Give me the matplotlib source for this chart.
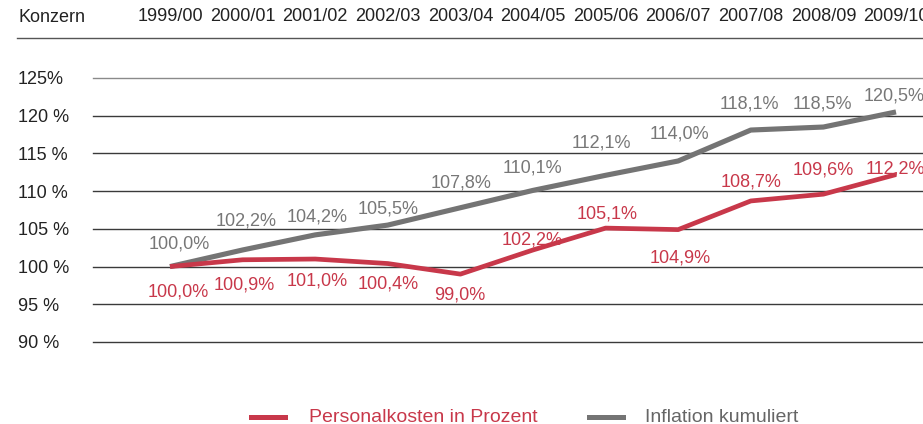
import numpy as np
import matplotlib.pyplot as plt
from matplotlib.lines import Line2D

plt.rcParams['font.family'] = ['Liberation Sans', 'DejaVu Sans']

# data
jahre = ['1999/00', '2000/01', '2001/02', '2002/03', '2003/04', '2004/05',
         '2005/06', '2006/07', '2007/08', '2008/09', '2009/10']
personal = [100.0, 100.9, 101.0, 100.4, 99.0, 102.2, 105.1, 104.9, 108.7, 109.6, 112.2]
inflation = [100.0, 102.2, 104.2, 105.5, 107.8, 110.1, 112.1, 114.0, 118.1, 118.5, 120.5]
y_ticks = [90, 95, 100, 105, 110, 115, 120, 125]
y_labels = ['90 %', '95 %', '100 %', '105 %', '110 %', '115 %', '120 %', '125%']

# label offsets in pixels (dx, dy)
off_pers = [(8, -25), (2, -25), (2, -22), (0, -20), (-1, -21), (-1, 10),
            (2, 14), (2, -28), (0, 19), (0, 24), (-1, 6)]
off_infl = [(9, 23), (4, 29), (2, 18), (0, 16), (1, 25), (-1, 22),
            (-4, 32), (1, 27), (-1, 26), (-1, 23), (-2, 16)]

ROT = '#C8384A'
GRAU = '#747474'
TXT = '#222222'

W, H = 923, 424
fig = plt.figure(figsize=(W / 100, H / 100), dpi=100)
ax = fig.add_axes([93 / W, 1 - 342 / H, (W - 93) / W, (342 - 78) / H])

x = np.arange(len(jahre))
ax.set_xlim((93 - 170) / 72.6, (923 - 170) / 72.6)
ax.set_ylim(90, 125)

for yv in y_ticks:
    c = '#8a8a8a' if yv == 125 else '#3a3a3a'
    ax.axhline(yv, color=c, lw=1.0, zorder=1, clip_on=False)

ax.plot(x, inflation, color=GRAU, lw=3.7, solid_joinstyle='round',
        solid_capstyle='butt', zorder=3)
ax.plot(x, personal, color=ROT, lw=3.4, solid_joinstyle='round',
        solid_capstyle='butt', zorder=4)

for i in range(len(x)):
    ax.annotate(f'{inflation[i]:.1f}%'.replace('.', ','), (x[i], inflation[i]),
                xytext=off_infl[i], textcoords='offset pixels',
                ha='center', va='center', color='#777777', fontsize=13)
    ax.annotate(f'{personal[i]:.1f}%'.replace('.', ','), (x[i], personal[i]),
                xytext=off_pers[i], textcoords='offset pixels',
                ha='center', va='center', color=ROT, fontsize=13)

for s in ax.spines.values():
    s.set_visible(False)

# top header with years
ax.xaxis.tick_top()
ax.set_xticks(x)
ax.set_xticklabels(jahre)
ax.tick_params(axis='x', length=0, pad=38, labelsize=13, labelcolor=TXT)

ax.set_yticks(y_ticks)
ax.set_yticklabels(y_labels)
ax.tick_params(axis='y', length=0, pad=54, labelsize=13, labelcolor=TXT)
for t in ax.get_yticklabels():
    t.set_horizontalalignment('left')

fig.text(18 / W, 1 - 18 / H, 'Konzern', ha='left', va='center',
         fontsize=13, color=TXT)
fig.add_artist(Line2D([17 / W, 1], [1 - 38 / H, 1 - 38 / H],
                      color='#555555', lw=1.0))

# legend
ly = 1 - 417 / H
fig.add_artist(Line2D([251 / W, 285 / W], [ly, ly], color=ROT, lw=3.6))
fig.text(309 / W, ly, 'Personalkosten in Prozent', ha='left', va='center',
         fontsize=14, color=ROT)
fig.add_artist(Line2D([589 / W, 623 / W], [ly, ly], color=GRAU, lw=3.6))
fig.text(645 / W, ly, 'Inflation kumuliert', ha='left', va='center',
         fontsize=14, color='#666666')

fig.savefig('out.png', dpi=100)
